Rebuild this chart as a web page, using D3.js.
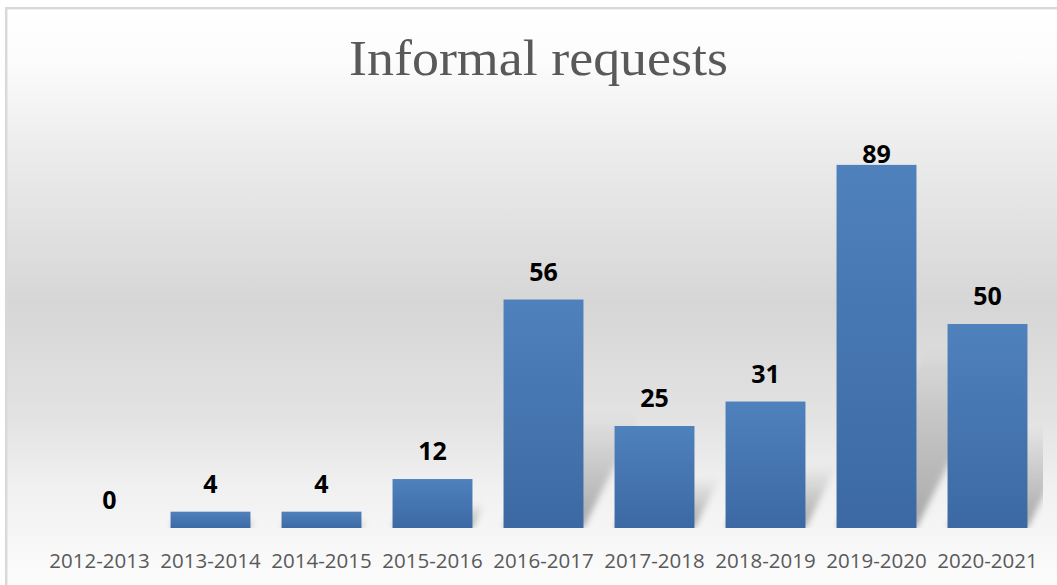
<!DOCTYPE html>
<html><head><meta charset="utf-8">
<script src="https://cdn.jsdelivr.net/npm/d3@7"></script>
<style>html,body{margin:0;padding:0;background:#fff;}svg{display:block;}</style>
</head><body>
<svg id="chart" width="1057" height="585"></svg>
<script>
const title = "Informal requests";
const categories = ["2012-2013","2013-2014","2014-2015","2015-2016","2016-2017","2017-2018","2018-2019","2019-2020","2020-2021"];
const values = [0, 4, 4, 12, 56, 25, 31, 89, 50];
const yMax = 100;

const W = 1057, H = 585;
const svg = d3.select("#chart");
const defs = svg.append("defs");

// background gradient
const bg = defs.append("linearGradient").attr("id","bg").attr("gradientUnits","userSpaceOnUse")
  .attr("x1",0).attr("y1",8).attr("x2",0).attr("y2",585);
[[8,"#ffffff"],[60,"#fcfcfc"],[150,"#ececec"],[305,"#d6d6d6"],[420,"#e3e3e3"],[485,"#f0f0f0"],[585,"#fcfcfc"]]
  .forEach(([y,c])=>bg.append("stop").attr("offset",((y-8)/577)).attr("stop-color",c));

const barGrad = defs.append("linearGradient").attr("id","barg").attr("x1",0).attr("y1",0).attr("x2",0).attr("y2",1);
barGrad.append("stop").attr("offset",0).attr("stop-color","#4f81bd");
barGrad.append("stop").attr("offset",1).attr("stop-color","#3c69a3");

const shGrad = defs.append("linearGradient").attr("id","shg").attr("x1",0).attr("y1",1).attr("x2",0).attr("y2",0);
shGrad.append("stop").attr("offset",0).attr("stop-color","#000").attr("stop-opacity",0.32);
shGrad.append("stop").attr("offset",0.45).attr("stop-color","#000").attr("stop-opacity",0.18);
shGrad.append("stop").attr("offset",1).attr("stop-color","#000").attr("stop-opacity",0);

const blur = defs.append("filter").attr("id","blur").attr("x","-20%").attr("y","-20%").attr("width","140%").attr("height","140%");
blur.append("feGaussianBlur").attr("stdDeviation",3);

defs.append("clipPath").attr("id","plotclip").append("rect")
  .attr("x",40).attr("y",100).attr("width",1003).attr("height",428);

// frame
svg.append("rect").attr("x",6.2).attr("y",8.2).attr("width",1100).attr("height",700)
  .attr("fill","url(#bg)").attr("stroke","#d9d9d9").attr("stroke-width",2.5);

// title
const t = svg.append("text").attr("x",538.5).attr("y",75).attr("text-anchor","middle")
  .attr("font-family","'Liberation Serif', 'DejaVu Serif', serif").attr("font-size",51)
  .attr("fill","#595959").text(title);
t.attr("textLength",379).attr("lengthAdjust","spacingAndGlyphs");

const x = d3.scaleBand().domain(categories).range([44,1043]).paddingInner(0.28).paddingOuter(0.14);
const y = d3.scaleLinear().domain([0,yMax]).range([528,120]);
const base = y(0);

// shadows
const sh = svg.append("g").attr("clip-path","url(#plotclip)").append("g").attr("filter","url(#blur)");
sh.selectAll("path").data(values.map((v,i)=>({v,c:categories[i]})).filter(d=>d.v>0)).join("path")
  .attr("fill","url(#shg)")
  .attr("d",d=>{
    const x0 = x(d.c), x1 = x0 + x.bandwidth();
    const e = (base - y(d.v))*0.5, dx = e*0.5;
    return `M${x0},${base}L${x1},${base}L${x1+dx},${base-e}L${x0+dx},${base-e}Z`;
  });

// bars
svg.append("g").selectAll("rect").data(values.map((v,i)=>({v,c:categories[i]}))).join("rect")
  .attr("x",d=>x(d.c)).attr("width",x.bandwidth())
  .attr("y",d=>y(d.v)).attr("height",d=>base-y(d.v))
  .attr("fill","url(#barg)");

// value labels
svg.append("g").selectAll("text").data(values.map((v,i)=>({v,c:categories[i]}))).join("text")
  .attr("x",d=>x(d.c)+x.bandwidth()/2 + (d.v===0?10:0))
  .attr("y",d=>Math.max(y(d.v)-19,163))
  .attr("text-anchor","middle")
  .attr("font-family","'Open Sans', sans-serif").attr("font-weight",700).attr("font-size",25)
  .attr("fill","#000").text(d=>d.v);

// x axis labels
const xAxis = d3.axisBottom(x).tickSize(0).tickPadding(0);
const ax = svg.append("g").attr("transform",`translate(0,${base})`).call(xAxis);
ax.select(".domain").remove();
ax.selectAll("text").attr("y",40).attr("dy",0)
  .attr("font-family","'Open Sans', sans-serif").attr("font-size",20.5).attr("fill","#595959");
</script>
</body></html>
